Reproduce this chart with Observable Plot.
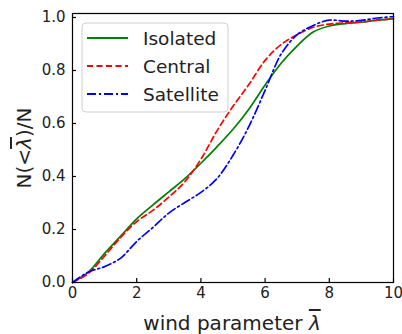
<!DOCTYPE html>
<html>
<head>
<meta charset="utf-8">
<script src="https://cdn.jsdelivr.net/npm/d3@7"></script>
<script src="https://cdn.jsdelivr.net/npm/@observablehq/plot@0.6"></script>
<style>
  html, body { margin: 0; padding: 0; background: #fff; }
  #chart svg { display: block; font-family: "DejaVu Sans", sans-serif; }
</style>
</head>
<body>
<div id="chart"></div>
<script>
// ---- data ----
const lambdaGrid = [0, 0.5, 1, 1.5, 2, 2.5, 3, 3.5, 4, 4.5, 5, 5.5, 6, 6.5, 7, 7.5, 8, 8.5, 9, 9.5, 10];
const isolated  = [0, 0.04, 0.11, 0.175, 0.24, 0.292, 0.342, 0.392, 0.45, 0.512, 0.578, 0.655, 0.745, 0.827, 0.893, 0.945, 0.968, 0.977, 0.982, 0.99, 0.995];
const central   = [0, 0.035, 0.10, 0.17, 0.23, 0.272, 0.322, 0.38, 0.465, 0.572, 0.665, 0.748, 0.838, 0.898, 0.935, 0.963, 0.975, 0.98, 0.983, 0.99, 0.995];
const satellite = [0, 0.04, 0.06, 0.092, 0.155, 0.207, 0.262, 0.302, 0.34, 0.392, 0.48, 0.59, 0.725, 0.862, 0.935, 0.97, 0.99, 0.986, 0.989, 0.998, 1.003];
const seriesNames = ["Isolated", "Central", "Satellite"];
const seriesColors = ["#008000", "#ff0000", "#0000ff"];
const seriesDash = [null, "6,3.5", "9,3,2,3"];
const xTicks = [0, 2, 4, 6, 8, 10];
const yTicks = [0, 0.2, 0.4, 0.6, 0.8, 1.0];

const seriesValues = [isolated, central, satellite];
const rows = [];
seriesNames.forEach((name, i) => {
  lambdaGrid.forEach((l, j) => rows.push({series: name, lambda: l, n: seriesValues[i][j]}));
});

const W = 402, H = 334;
const mL = 72, mR = 9, mT = 13, mB = 52;

const lineMarks = seriesNames.map((name, i) =>
  Plot.line(rows.filter(d => d.series === name), {
    x: "lambda", y: "n", stroke: seriesColors[i], strokeWidth: 1.7,
    strokeDasharray: seriesDash[i] || undefined, curve: "catmull-rom"
  })
);

const svg = Plot.plot({
  width: W, height: H,
  marginLeft: mL, marginRight: mR, marginTop: mT, marginBottom: mB,
  style: {fontFamily: "DejaVu Sans, sans-serif", fontSize: "15px", color: "#000", background: "#fff"},
  x: {domain: [0, 10], label: null},
  y: {domain: [0, 1.015], label: null},
  marks: [
    ...lineMarks,
    Plot.axisX({ticks: xTicks, tickSize: 0, tickPadding: 5, fontSize: 15, label: null}),
    Plot.axisY({ticks: yTicks, tickSize: 0, tickPadding: 7, fontSize: 15, tickFormat: d3.format(".1f"), label: null}),
    Plot.axisX({ticks: xTicks, tickSize: 4, text: null, dy: -4, label: null, strokeWidth: 1.2}),
    Plot.axisY({ticks: yTicks, tickSize: 4, text: null, dx: 4, label: null, strokeWidth: 1.2}),
    Plot.frame({stroke: "#000", strokeWidth: 1.2})
  ]
});

const root = d3.select(svg);
root.selectAll("g[aria-label='x-axis tick label'] text, g[aria-label='y-axis tick label'] text").attr("fill", "#222");

// legend
const lg = root.append("g").attr("font-family", "DejaVu Sans, sans-serif").attr("text-anchor", "start");
lg.append("rect").attr("x", 82).attr("y", 23).attr("width", 146).attr("height", 89)
  .attr("rx", 4).attr("fill", "#fff").attr("fill-opacity", 0.85).attr("stroke", "#d0d0d0").attr("stroke-width", 1);
const legendY = [38, 66, 94];
seriesNames.forEach((name, i) => {
  lg.append("line").attr("x1", 87).attr("x2", 128).attr("y1", legendY[i]).attr("y2", legendY[i])
    .attr("stroke", seriesColors[i]).attr("stroke-width", 1.8)
    .attr("stroke-dasharray", seriesDash[i]);
  lg.append("text").attr("x", 143).attr("y", legendY[i]).attr("dy", "0.36em")
    .attr("text-anchor", "start").attr("font-size", 18.5).attr("fill", "#222").text(name);
});

// x label
const xl = root.append("text").attr("x", 232).attr("y", 330).attr("text-anchor", "middle")
  .attr("font-size", 20).attr("fill", "#222");
xl.append("tspan").text("wind parameter ");
xl.append("tspan").attr("font-style", "italic").attr("text-decoration", "overline").text("λ");

// y label
const yl = root.append("text").attr("transform", "translate(31,148) rotate(-90)")
  .attr("text-anchor", "middle").attr("font-size", 20).attr("fill", "#222");
yl.append("tspan").text("N(<");
yl.append("tspan").attr("font-style", "italic").attr("text-decoration", "overline").text("λ");
yl.append("tspan").text(")/N");

document.getElementById("chart").appendChild(svg);
</script>
</body>
</html>
